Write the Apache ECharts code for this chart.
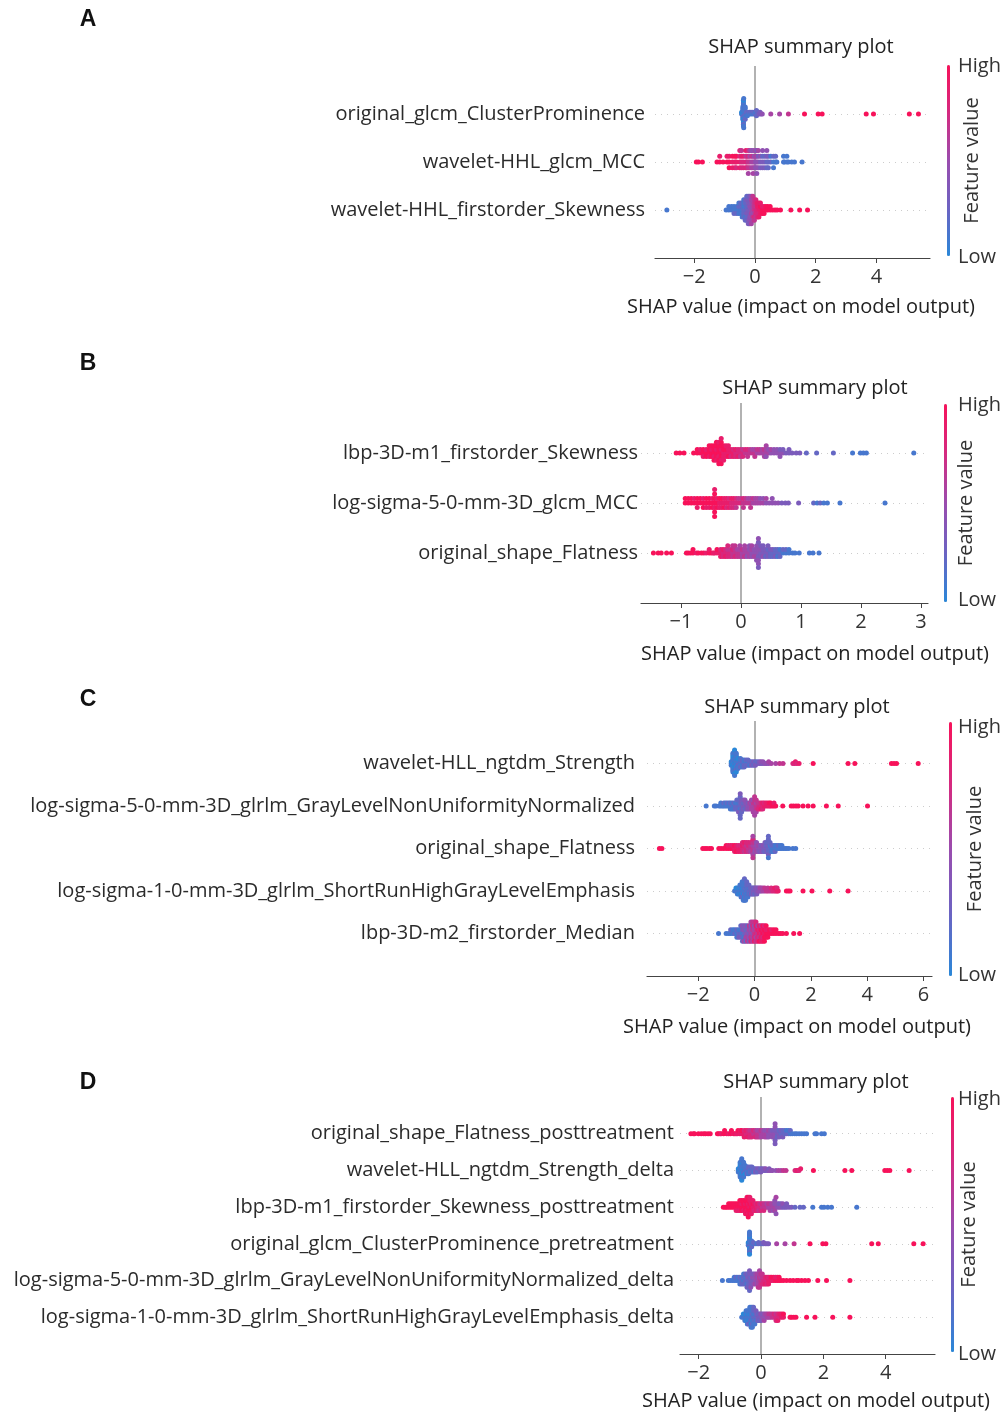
<!DOCTYPE html>
<html><head><meta charset="utf-8">
<script src="https://cdn.jsdelivr.net/npm/echarts@6/dist/echarts.min.js"></script>
<style>html,body{margin:0;padding:0;background:#fff}#c{width:1005px;height:1413px}</style>
</head><body><div id="c"></div><script>
// ---------------- DATA: feature labels, ticks, and per-row points [shap value, feature value 0..9] ----------------
const A_labels = ['original_glcm_ClusterProminence','wavelet-HHL_glcm_MCC','wavelet-HHL_firstorder_Skewness'];
const B_labels = ['lbp-3D-m1_firstorder_Skewness','log-sigma-5-0-mm-3D_glcm_MCC','original_shape_Flatness'];
const C_labels = ['wavelet-HLL_ngtdm_Strength','log-sigma-5-0-mm-3D_glrlm_GrayLevelNonUniformityNormalized','original_shape_Flatness','log-sigma-1-0-mm-3D_glrlm_ShortRunHighGrayLevelEmphasis','lbp-3D-m2_firstorder_Median'];
const D_labels = ['original_shape_Flatness_posttreatment','wavelet-HLL_ngtdm_Strength_delta','lbp-3D-m1_firstorder_Skewness_posttreatment','original_glcm_ClusterProminence_pretreatment','log-sigma-5-0-mm-3D_glrlm_GrayLevelNonUniformityNormalized_delta','log-sigma-1-0-mm-3D_glrlm_ShortRunHighGrayLevelEmphasis_delta'];
const A_ticks = [-2,0,2,4];
const B_ticks = [-1,0,1,2,3];
const C_ticks = [-2,0,2,4,6];
const D_ticks = [-2,0,2,4];

const A1 = [[-.44,1],[-.44,0],
[-.40,1],[-.40,0],[-.40,1],[-.40,1],[-.40,2],[-.40,1],[-.40,0],[-.40,1],
[-.38,1],[-.38,1],[-.38,0],[-.38,1],[-.38,2],[-.38,1],[-.38,1],[-.38,0],[-.37,1],[-.37,1],
[-.34,1],[-.34,1],[-.34,2],[-.34,1],[-.34,1],[-.32,1],[-.32,2],[-.32,1],[-.28,1],[-.28,2],
[-.25,1],[-.22,1],[-.19,2],[-.16,1],[-.13,2],[-.10,1],[-.07,2],[-.04,1],[-.01,2],[.02,2],[.02,1],[.05,2],[.05,2],[.08,2],[.11,2],[.14,3],[.17,3],[.20,3],
[.24,4],[.52,5],[.81,5],[1.10,6],[1.63,9],[2.08,9],[2.21,9],[3.66,9],[3.90,9],[5.08,9],[5.38,9]];
const A2 = [[-1.93,9],[-1.86,9],[-1.73,9],[-1.25,9],[-1.16,9],[-1.16,8],[-1.05,9],[-.92,9],[-.92,8],
[-.85,9],[-.85,8],[-.85,9],[-.74,8],[-.74,9],[-.74,8],[-.66,8],[-.66,9],[-.66,8],[-.61,8],[-.61,9],[-.61,7],
[-.50,8],[-.50,7],[-.50,8],[-.50,7],[-.44,7],[-.44,8],[-.44,7],[-.44,6],[-.38,7],[-.38,8],[-.38,7],
[-.30,7],[-.30,6],[-.30,7],[-.30,8],[-.27,7],[-.27,6],[-.27,7],[-.22,6],[-.22,7],[-.22,6],[-.22,7],[-.22,5],
[-.17,6],[-.17,5],[-.17,6],[-.17,5],[-.11,5],[-.11,6],[-.11,5],[-.11,4],[-.06,5],[-.06,6],[-.06,5],[-.06,4],[-.06,5],
[-.02,5],[-.02,4],[-.02,5],[.02,4],[.02,5],[.02,4],[.02,5],[.06,4],[.06,5],[.06,4],[.06,3],[.06,4],
[.11,4],[.11,3],[.11,4],[.11,5],[.18,3],[.18,4],[.18,3],[.25,3],[.25,2],[.25,3],[.25,4],[.32,3],[.32,2],[.32,3],
[.39,2],[.39,3],[.39,2],[.39,4],[.44,2],[.44,3],[.44,2],[.52,2],[.52,1],[.61,1],[.61,2],[.61,1],[.68,1],[.68,2],[.72,1],
[.94,1],[.94,1],[.97,1],[1.05,1],[1.05,1],[1.10,1],[1.21,1],[1.30,1],[1.55,1]];
const A3 = [[-2.90,1],[-.95,1],[-.86,1],[-.86,1],[-.77,1],[-.77,1],[-.69,1],[-.69,1],[-.69,2],[-.60,1],[-.60,1],[-.60,2],
[-.53,1],[-.53,2],[-.53,1],[-.53,1],[-.47,1],[-.47,2],[-.47,1],[-.47,2],[-.42,1],[-.42,2],[-.42,1],[-.42,2],[-.42,1],
[-.37,2],[-.37,1],[-.37,2],[-.37,1],[-.37,2],[-.37,1],[-.32,2],[-.32,1],[-.32,2],[-.32,2],[-.32,1],[-.32,2],[-.32,2],
[-.27,2],[-.27,2],[-.27,3],[-.27,2],[-.27,2],[-.27,3],[-.27,2],[-.27,2],
[-.22,3],[-.22,2],[-.22,3],[-.22,3],[-.22,2],[-.22,3],[-.22,3],[-.22,2],[-.22,3],
[-.17,3],[-.17,4],[-.17,3],[-.17,3],[-.17,4],[-.17,3],[-.17,4],[-.17,3],[-.17,3],
[-.12,4],[-.12,4],[-.12,5],[-.12,4],[-.12,4],[-.12,5],[-.12,4],[-.12,4],[-.12,5],
[-.07,5],[-.07,5],[-.07,4],[-.07,5],[-.07,6],[-.07,5],[-.07,5],[-.07,6],
[-.02,6],[-.02,6],[-.02,5],[-.02,6],[-.02,7],[-.02,6],[-.02,6],
[.03,7],[.03,6],[.03,7],[.03,7],[.03,6],[.03,7],[.08,7],[.08,8],[.08,7],[.08,8],[.08,7],
[.13,8],[.13,8],[.13,7],[.13,8],[.13,8],[.18,8],[.18,9],[.18,8],[.18,8],[.24,9],[.24,8],[.24,9],
[.30,9],[.30,8],[.30,9],[.36,9],[.36,9],[.42,9],[.42,9],[.50,9],[.50,9],
[.58,9],[.66,9],[.73,9],[.84,9],[1.18,9],[1.47,9],[1.73,9]];

const B1 = [[-1.08,9],[-1.02,9],[-.95,9],[-.79,9],[-.73,9],[-.73,9],[-.68,9],[-.68,8],
[-.63,9],[-.63,9],[-.63,8],[-.58,9],[-.58,8],[-.58,9],[-.53,9],[-.53,9],[-.53,8],[-.53,9],
[-.49,9],[-.49,8],[-.49,9],[-.49,9],[-.45,9],[-.45,9],[-.45,8],[-.45,9],[-.45,9],
[-.41,9],[-.41,8],[-.41,9],[-.41,9],[-.41,8],[-.41,9],[-.37,9],[-.37,9],[-.37,8],[-.37,9],[-.37,9],[-.37,8],[-.37,9],
[-.33,9],[-.33,8],[-.33,9],[-.33,9],[-.33,8],[-.33,9],[-.33,9],[-.33,8],
[-.29,8],[-.29,9],[-.29,8],[-.29,9],[-.29,8],[-.25,8],[-.25,9],[-.25,8],[-.25,8],[-.21,8],[-.21,8],[-.21,9],[-.21,8],
[-.17,8],[-.17,8],[-.17,7],[-.13,8],[-.13,7],[-.13,8],[-.09,7],[-.09,8],[-.09,7],[-.05,7],[-.05,7],[-.05,8],
[-.01,7],[-.01,7],[-.01,6],[.03,7],[.03,6],[.03,7],[.07,6],[.07,7],[.11,6],[.11,7],[.11,6],[.15,6],[.15,6],
[.19,6],[.19,5],[.23,6],[.23,5],[.23,6],[.27,5],[.27,6],[.31,5],[.31,6],[.35,5],[.35,5],[.39,5],[.39,6],[.39,5],
[.42,5],[.42,5],[.42,4],[.42,5],[.46,5],[.46,4],[.50,4],[.50,5],[.55,4],[.55,4],[.60,4],[.60,4],
[.65,4],[.65,3],[.65,4],[.70,4],[.70,3],[.75,3],[.80,3],[.80,3],[.85,3],[.92,3],[.98,3],
[1.09,2],[1.26,2],[1.54,2],[1.86,1],[1.99,1],[2.04,1],[2.09,1],[2.88,1]];
const B2 = [[-.93,9],[-.93,9],[-.88,9],[-.88,9],[-.83,9],[-.83,9],[-.78,9],[-.78,8],[-.73,9],[-.73,9],[-.73,8],[-.68,9],[-.68,9],
[-.63,9],[-.63,8],[-.63,9],[-.58,9],[-.58,9],[-.58,8],[-.53,9],[-.53,9],[-.53,8],[-.48,9],[-.48,8],[-.48,9],
[-.44,9],[-.44,9],[-.44,8],[-.44,9],[-.44,9],[-.44,8],[-.44,9],[-.40,9],[-.40,8],[-.40,9],[-.36,8],[-.36,9],[-.36,8],
[-.32,8],[-.32,9],[-.32,8],[-.28,8],[-.28,8],[-.28,9],[-.24,8],[-.24,8],[-.24,7],[-.20,8],[-.20,7],[-.20,8],
[-.16,7],[-.16,8],[-.16,7],[-.12,7],[-.12,8],[-.12,7],[-.08,7],[-.08,7],[-.08,6],[-.04,7],[-.04,6],[0,7],[0,6],
[.04,6],[.04,7],[.04,6],[.08,6],[.08,6],[.12,6],[.12,5],[.16,6],[.16,5],[.16,6],[.20,5],[.20,6],[.24,5],[.24,5],
[.28,5],[.28,5],[.32,5],[.32,4],[.37,5],[.37,4],[.42,4],[.42,5],[.47,4],[.52,4],[.52,4],[.57,4],[.62,4],
[.68,3],[.74,3],[.79,3],[.96,3],[1.21,2],[1.27,1],[1.32,2],[1.38,1],[1.44,1],[1.65,1],[2.40,1]];
const B3 = [[-1.46,9],[-1.38,9],[-1.33,9],[-1.24,9],[-1.16,9],
[-.91,9],[-.88,9],[-.84,9],[-.80,9],[-.80,9],[-.74,8],[-.71,9],[-.66,9],[-.62,9],[-.58,8],
[-.53,9],[-.53,8],[-.49,9],[-.46,8],[-.44,8],[-.40,8],[-.40,9],
[-.34,8],[-.34,7],[-.34,8],[-.30,7],[-.30,8],[-.30,7],[-.26,7],[-.26,7],[-.26,8],[-.22,7],[-.22,6],[-.22,7],[-.22,7],
[-.18,7],[-.18,6],[-.18,7],[-.14,6],[-.14,7],[-.14,6],[-.14,6],[-.10,6],[-.10,6],[-.10,7],[-.10,6],
[-.06,6],[-.06,5],[-.06,6],[-.02,6],[-.02,5],[-.02,6],[-.02,5],[.02,5],[.02,6],[.02,5],
[.06,5],[.06,5],[.06,6],[.06,5],[.10,5],[.10,5],[.10,4],[.14,5],[.14,4],[.14,5],[.14,4],
[.18,4],[.18,5],[.18,4],[.18,5],[.22,4],[.22,4],[.22,5],[.26,4],[.26,4],[.26,5],[.26,4],[.26,4],
[.29,4],[.29,4],[.29,3],[.29,4],[.29,4],[.29,3],[.29,4],[.29,4],[.29,3],
[.33,3],[.33,4],[.33,3],[.33,3],[.37,3],[.37,3],[.37,4],[.37,3],[.41,3],[.41,3],[.41,2],
[.45,3],[.45,2],[.45,3],[.45,3],[.49,2],[.49,3],[.49,2],[.53,2],[.53,3],[.53,2],[.57,2],[.57,2],[.57,3],
[.61,2],[.61,2],[.61,1],[.65,2],[.65,1],[.65,2],[.70,1],[.70,2],[.75,1],[.75,2],[.80,1],[.80,1],
[.86,1],[.90,1],[.97,1],[1.14,1],[1.20,1],[1.30,1]];

const C1 = [[-.83,1],[-.83,0],[-.83,1],
[-.77,0],[-.77,1],[-.77,0],[-.77,1],[-.77,0],[-.77,1],[-.77,1],[-.77,0],[-.77,1],[-.77,0],[-.77,1],[-.77,1],
[-.71,1],[-.71,0],[-.71,1],[-.71,1],[-.71,0],[-.71,1],[-.71,0],[-.71,1],[-.71,1],[-.71,0],[-.71,1],[-.71,1],[-.71,0],[-.71,1],[-.71,1],[-.71,0],
[-.65,1],[-.65,1],[-.65,0],[-.65,1],[-.65,1],[-.65,0],[-.65,1],[-.65,1],[-.65,2],[-.65,1],[-.65,0],[-.65,1],
[-.59,1],[-.59,1],[-.59,2],[-.59,1],[-.59,1],[-.59,0],[-.59,1],
[-.50,1],[-.50,2],[-.50,1],[-.50,1],[-.50,2],[-.50,1],[-.43,1],[-.43,2],[-.43,1],[-.43,2],[-.43,1],
[-.37,2],[-.37,1],[-.37,2],[-.37,1],[-.37,2],[-.30,2],[-.30,1],[-.30,2],[-.30,2],[-.23,2],[-.23,1],[-.23,2],[-.23,2],
[-.17,2],[-.17,2],[-.17,1],[-.10,2],[-.10,2],[-.10,3],[-.03,2],[-.03,3],[-.03,2],[.03,3],[.03,2],[.03,3],
[.10,3],[.10,2],[.17,3],[.17,3],[.23,3],[.23,4],[.30,3],[.30,4],[.37,4],[.43,4],[.50,4],[.50,5],
[.59,5],[.75,5],[.89,6],[1.01,6],[1.36,7],[1.42,7],[1.45,8],[1.50,7],[1.58,8],[2.08,9],[3.32,9],[3.56,9],[4.86,9],[4.95,9],[5.04,9],[5.81,9]];
const C2 = [[-1.72,1],[-1.43,1],[-1.37,1],[-1.26,1],[-1.20,1],[-1.20,1],[-1.14,1],[-1.09,1],[-1.09,2],[-1.03,1],[-1.03,1],[-.97,1],[-.97,2],[-.91,1],[-.91,1],
[-.86,1],[-.86,2],[-.86,1],[-.80,2],[-.80,1],[-.80,1],[-.74,1],[-.74,2],[-.74,1],[-.68,2],[-.68,1],[-.68,2],
[-.63,2],[-.63,1],[-.63,2],[-.63,2],[-.57,2],[-.57,1],[-.57,2],[-.57,2],[-.57,3],
[-.51,2],[-.51,2],[-.51,1],[-.51,2],[-.51,3],[-.51,2],[-.51,2],[-.51,3],[-.51,2],
[-.46,2],[-.46,3],[-.46,2],[-.46,3],[-.46,2],[-.40,3],[-.40,2],[-.40,3],[-.40,3],[-.34,3],[-.34,3],[-.34,2],[-.34,4],
[-.28,3],[-.28,4],[-.28,3],[-.23,4],[-.23,3],[-.23,4],[-.17,4],[-.17,5],[-.17,4],[-.11,5],[-.11,4],[-.11,5],[-.11,5],
[-.05,5],[-.05,6],[-.05,5],[-.05,4],[-.05,5],[0,5],[0,6],[0,5],[0,6],[0,5],[0,6],[0,5],
[.06,6],[.06,5],[.06,6],[.06,6],[.06,5],[.12,6],[.12,6],[.12,7],[.17,7],[.17,6],[.17,7],[.23,7],[.23,7],[.23,8],
[.29,7],[.29,8],[.29,7],[.34,8],[.34,7],[.40,8],[.40,8],[.46,8],[.46,8],[.52,8],[.52,9],[.57,8],[.57,9],[.63,9],[.69,9],[.69,8],[.75,9],[1.00,9],
[1.30,9],[1.38,9],[1.47,9],[1.55,9],[1.72,9],[1.90,9],[2.08,9],[2.55,9],[2.97,9],[4.01,9]];
const C3 = [[-3.38,9],[-3.29,9],[-1.84,9],[-1.76,9],[-1.69,9],[-1.60,9],[-1.53,9],[-1.27,9],[-1.19,9],[-1.10,9],[-1.01,9],[-1.01,9],[-.93,9],[-.93,8],
[-.85,9],[-.85,8],[-.78,9],[-.78,8],[-.71,8],[-.71,9],[-.71,8],[-.64,8],[-.64,8],[-.64,9],[-.57,8],[-.57,7],[-.57,8],[-.50,8],[-.50,7],[-.50,8],
[-.43,7],[-.43,8],[-.43,7],[-.43,7],[-.36,7],[-.36,7],[-.36,6],[-.36,8],[-.29,7],[-.29,6],[-.29,7],[-.29,7],
[-.22,6],[-.22,7],[-.22,6],[-.22,7],[-.14,6],[-.14,6],[-.14,5],[-.14,7],
[-.06,6],[-.06,5],[-.06,6],[-.06,6],[-.06,5],[-.06,7],[-.06,6],[-.06,5],
[.01,5],[.01,5],[.01,4],[.01,6],[.07,5],[.07,4],[.07,5],[.07,4],[.13,4],[.13,5],[.13,4],[.19,4],[.19,4],[.19,3],
[.25,4],[.25,3],[.25,4],[.31,3],[.31,4],[.31,3],[.37,3],[.37,3],[.37,2],[.37,3],[.43,3],[.43,2],[.43,3],[.43,2],
[.49,2],[.49,3],[.49,2],[.49,2],[.49,3],[.49,2],[.49,1],[.49,2],[.55,2],[.55,1],[.55,2],[.55,2],
[.61,1],[.61,2],[.61,1],[.67,1],[.67,2],[.67,1],[.73,1],[.73,1],[.73,2],[.79,1],[.79,1],[.85,1],[.85,2],[.91,1],[.91,1],[.97,1],[.97,1],
[1.03,1],[1.09,1],[1.15,1],[1.22,1],[1.36,1],[1.46,1]];
const C4 = [[-.71,1],[-.66,1],[-.66,0],[-.61,1],[-.61,0],[-.61,1],[-.56,1],[-.56,1],[-.56,0],
[-.52,1],[-.52,0],[-.52,1],[-.52,1],[-.48,1],[-.48,1],[-.48,0],[-.48,1],[-.48,1],
[-.44,1],[-.44,0],[-.44,1],[-.44,1],[-.44,2],[-.44,1],[-.40,1],[-.40,1],[-.40,0],[-.40,1],[-.40,2],[-.40,1],[-.40,1],
[-.36,1],[-.36,1],[-.36,2],[-.36,1],[-.36,0],[-.36,1],[-.36,1],[-.36,2],[-.32,1],[-.32,2],[-.32,1],[-.32,1],[-.32,2],[-.32,1],[-.32,1],
[-.28,2],[-.28,1],[-.28,1],[-.28,2],[-.28,1],[-.28,2],[-.24,1],[-.24,2],[-.24,1],[-.24,2],[-.24,1],
[-.20,2],[-.20,1],[-.20,2],[-.20,2],[-.16,2],[-.16,2],[-.16,1],[-.12,2],[-.12,2],[-.12,3],[-.08,2],[-.08,3],[-.08,2],
[-.04,3],[-.04,2],[-.04,3],[0,3],[0,3],[0,2],[.04,3],[.04,3],[.08,3],[.08,4],[.08,3],[.12,4],[.12,3],[.16,4],[.16,4],
[.20,4],[.20,5],[.24,4],[.24,5],[.30,5],[.30,5],[.36,5],[.36,6],[.42,6],[.47,6],[.47,6],[.53,6],[.59,6],[.59,7],
[.65,7],[.71,7],[.71,8],[.76,7],[.76,8],[.80,8],[.80,7],[.84,8],
[1.13,9],[1.20,9],[1.26,9],[1.72,9],[2.04,9],[2.67,9],[3.32,9]];
const C5 = [[-1.28,1],[-1.01,1],[-.92,1],[-.85,1],[-.85,2],[-.77,1],[-.77,1],[-.70,2],[-.70,1],[-.63,1],[-.63,2],[-.63,1],[-.56,2],[-.56,1],[-.56,3],
[-.49,2],[-.49,1],[-.49,3],[-.49,2],[-.43,1],[-.43,3],[-.43,2],[-.43,4],[-.43,2],[-.37,2],[-.37,4],[-.37,1],[-.37,3],[-.37,5],
[-.31,3],[-.31,2],[-.31,5],[-.31,4],[-.31,2],[-.25,4],[-.25,3],[-.25,5],[-.25,2],[-.25,6],[-.19,3],[-.19,5],[-.19,4],[-.19,6],[-.19,3],
[-.13,5],[-.13,4],[-.13,6],[-.13,3],[-.13,7],[-.13,5],[-.07,4],[-.07,6],[-.07,5],[-.07,7],[-.07,5],[-.07,6],
[-.01,6],[-.01,5],[-.01,7],[-.01,4],[-.01,8],[-.01,6],[.05,7],[.05,6],[.05,5],[.05,8],[.05,6],[.05,7],
[.11,6],[.11,8],[.11,7],[.11,5],[.11,7],[.17,8],[.17,7],[.17,6],[.17,8],[.17,9],[.23,7],[.23,9],[.23,8],[.23,6],[.23,8],
[.29,9],[.29,8],[.29,7],[.29,9],[.29,8],[.35,8],[.35,9],[.35,9],[.35,7],[.35,9],[.41,9],[.41,8],[.41,9],[.41,9],
[.47,9],[.47,8],[.47,9],[.53,9],[.53,9],[.60,9],[.60,8],[.68,9],[.68,9],[.76,9],[.76,9],
[.85,9],[.92,9],[1.00,9],[1.13,9],[1.39,9],[1.60,9]];

const D1 = [[-2.25,9],[-2.17,9],[-2.13,9],[-2.01,9],[-1.92,9],[-1.84,9],[-1.78,9],[-1.70,9],[-1.63,9],
[-1.40,9],[-1.36,9],[-1.31,9],[-1.28,8],[-1.20,9],[-1.17,9],[-1.10,9],[-1.04,8],[-.98,9],[-.95,9],[-.88,8],[-.84,9],
[-.80,8],[-.76,8],[-.74,9],[-.68,8],[-.66,8],[-.62,8],[-.62,9],
[-.54,8],[-.54,7],[-.54,8],[-.48,7],[-.48,8],[-.42,7],[-.42,7],[-.42,8],[-.36,7],[-.36,6],[-.36,7],[-.30,7],[-.30,6],[-.30,7],
[-.24,6],[-.24,7],[-.18,6],[-.18,6],[-.18,7],[-.12,6],[-.12,5],[-.12,6],[-.06,6],[-.06,5],[-.06,6],[0,5],[0,6],[0,5],
[.06,5],[.06,5],[.12,5],[.12,4],[.12,5],[.18,5],[.18,4],[.18,5],[.24,4],[.24,5],[.24,4],[.30,4],[.30,4],
[.36,4],[.36,3],[.36,4],[.42,4],[.42,3],[.42,4],[.45,4],[.45,3],[.45,4],[.45,4],[.45,3],[.45,4],[.45,3],
[.52,3],[.52,3],[.52,2],[.58,3],[.58,2],[.58,3],[.64,2],[.64,3],[.70,2],[.70,2],[.70,3],[.76,2],[.76,2],[.82,2],[.82,1],[.88,2],[.88,1],[.94,1],[.94,2],
[1.00,1],[1.08,1],[1.14,1],[1.22,1],[1.30,1],[1.38,1],[1.46,1],[1.73,1],[1.78,1],[1.94,1],[2.03,1]];
const D2 = [[-.73,1],[-.73,0],[-.73,1],
[-.67,0],[-.67,1],[-.67,0],[-.67,1],[-.67,1],[-.67,0],[-.67,1],[-.67,0],[-.67,1],[-.67,1],
[-.62,1],[-.62,0],[-.62,1],[-.62,1],[-.62,0],[-.62,1],[-.62,0],[-.62,1],[-.62,1],[-.62,0],[-.62,1],[-.62,1],[-.62,0],[-.62,1],
[-.56,1],[-.56,0],[-.56,1],[-.56,1],[-.56,2],[-.56,1],[-.56,0],[-.56,1],[-.56,1],[-.56,1],
[-.51,1],[-.51,1],[-.51,2],[-.51,1],[-.51,0],[-.51,1],[-.45,1],[-.45,2],[-.45,1],[-.45,1],[-.45,2],
[-.40,1],[-.40,2],[-.40,1],[-.40,2],[-.40,1],[-.34,2],[-.34,1],[-.34,2],[-.34,2],[-.29,2],[-.29,1],[-.29,2],[-.29,2],
[-.23,2],[-.23,2],[-.23,1],[-.18,2],[-.18,2],[-.18,3],[-.12,2],[-.12,3],[-.12,2],[-.07,2],[-.07,3],
[-.01,3],[-.01,2],[-.01,3],[.04,3],[.04,3],[.10,3],[.10,3],[.15,3],[.15,4],[.21,3],[.26,4],[.26,3],[.32,4],[.37,4],
[.48,4],[.56,5],[.64,5],[.72,6],[.80,6],[1.09,7],[1.14,7],[1.17,8],[1.22,7],[1.27,8],[1.68,9],[2.69,9],[2.91,9],[3.97,9],[4.05,9],[4.13,9],[4.75,9]];
const D3 = [[-1.21,9],[-1.15,9],[-1.10,9],[-1.04,9],[-1.04,9],[-.98,9],[-.98,9],[-.92,9],[-.92,9],
[-.86,9],[-.86,9],[-.80,9],[-.80,9],[-.80,8],[-.74,9],[-.74,9],[-.74,8],[-.68,9],[-.68,9],[-.68,8],[-.68,9],
[-.62,9],[-.62,8],[-.62,9],[-.62,9],[-.56,9],[-.56,9],[-.56,8],[-.56,9],[-.50,9],[-.50,8],[-.50,9],[-.50,9],[-.50,8],
[-.45,9],[-.45,9],[-.45,8],[-.45,9],[-.45,9],[-.45,8],[-.41,9],[-.41,8],[-.41,9],[-.41,9],[-.41,8],[-.41,9],[-.41,9],
[-.36,8],[-.36,9],[-.36,9],[-.36,8],[-.36,9],[-.36,8],[-.31,9],[-.31,8],[-.31,9],[-.31,8],[-.31,8],
[-.26,8],[-.26,9],[-.26,8],[-.26,8],[-.21,8],[-.21,8],[-.21,7],[-.16,8],[-.16,7],[-.16,8],[-.11,7],[-.11,8],[-.11,7],
[-.06,7],[-.06,7],[-.06,6],[-.01,7],[-.01,6],[-.01,7],[.04,6],[.04,7],[.09,6],[.09,6],[.09,7],[.14,6],[.14,6],
[.19,6],[.19,5],[.24,5],[.24,6],[.29,5],[.29,6],[.29,5],[.34,5],[.34,5],[.39,5],[.39,5],[.39,4],
[.44,5],[.44,4],[.44,5],[.44,4],[.48,4],[.48,5],[.53,4],[.53,4],[.58,4],[.58,3],[.64,4],[.64,3],[.70,3],[.70,4],
[.76,3],[.82,3],[.82,3],[.90,3],[.98,3],[1.09,2],[1.25,2],[1.36,2],[1.66,1],[1.94,1],[2.02,1],[2.14,1],[2.26,1],[3.07,1]];
const D4 = [[-.41,1],[-.41,0],[-.41,1],
[-.37,1],[-.37,0],[-.37,1],[-.37,1],[-.37,2],[-.37,1],[-.37,0],[-.37,1],[-.37,1],[-.37,0],[-.37,1],[-.37,1],[-.37,2],[-.37,1],[-.37,0],[-.37,1],
[-.30,1],[-.30,2],[-.30,1],[-.30,1],[-.30,2],[-.25,1],[-.25,2],
[-.19,2],[-.13,1],[-.08,2],[-.08,2],[-.02,2],[.03,2],[.08,2],[.08,3],[.14,3],[.19,3],[.24,3],
[.50,5],[.77,5],[1.06,6],[1.57,9],[1.98,9],[2.08,9],[3.55,9],[3.76,9],[4.90,9],[5.20,9]];
const D5 = [[-1.24,1],[-1.05,1],[-.99,1],[-.92,1],[-.86,1],[-.86,1],[-.80,1],[-.80,2],[-.74,1],[-.74,1],[-.68,1],[-.68,2],[-.68,1],[-.62,2],[-.62,1],[-.62,2],
[-.56,1],[-.56,2],[-.56,2],[-.56,1],[-.50,2],[-.50,1],[-.50,2],[-.50,2],[-.45,2],[-.45,2],[-.45,1],[-.45,3],[-.45,2],
[-.41,2],[-.41,3],[-.41,2],[-.41,2],[-.41,3],[-.37,2],[-.37,3],[-.37,2],[-.37,3],[-.37,2],[-.37,3],[-.37,2],
[-.33,3],[-.33,2],[-.33,3],[-.33,3],[-.33,4],[-.28,3],[-.28,4],[-.28,3],[-.28,3],[-.23,3],[-.23,4],[-.23,4],[-.23,3],
[-.18,4],[-.18,4],[-.18,5],[-.18,4],[-.13,4],[-.13,5],[-.13,4],[-.13,5],[-.09,5],[-.09,4],[-.09,5],[-.09,5],[-.09,6],
[-.05,5],[-.05,6],[-.05,5],[-.05,5],[-.05,6],[-.05,5],[-.01,6],[-.01,5],[-.01,6],[-.01,6],[.04,6],[.04,6],[.04,7],[.04,6],
[.09,7],[.09,6],[.09,7],[.14,7],[.14,7],[.14,8],[.19,7],[.19,8],[.19,7],[.24,8],[.24,7],[.24,8],
[.29,8],[.29,8],[.34,8],[.34,9],[.40,8],[.40,9],[.46,9],[.46,8],[.52,9],[.52,8],[.58,9],[.58,9],[.64,9],
[.72,9],[.82,9],[.93,9],[1.03,9],[1.14,9],[1.20,9],[1.30,9],[1.41,9],[1.52,9],[1.82,9],[2.10,9],[2.85,9]];
const D6 = [[-.62,1],[-.57,1],[-.57,0],[-.52,1],[-.52,0],[-.52,1],[-.48,1],[-.48,1],[-.48,0],[-.48,1],
[-.44,1],[-.44,0],[-.44,1],[-.44,1],[-.44,1],[-.40,1],[-.40,1],[-.40,0],[-.40,1],[-.40,2],
[-.36,1],[-.36,0],[-.36,1],[-.36,1],[-.36,2],[-.36,1],[-.32,1],[-.32,1],[-.32,2],[-.32,1],[-.32,0],[-.32,1],[-.32,1],
[-.28,1],[-.28,2],[-.28,1],[-.28,1],[-.28,2],[-.28,1],[-.28,1],[-.24,2],[-.24,1],[-.24,1],[-.24,2],[-.24,1],[-.24,2],
[-.20,2],[-.20,1],[-.20,2],[-.20,2],[-.20,1],[-.16,2],[-.16,2],[-.16,1],[-.16,3],[-.12,2],[-.12,3],[-.12,2],
[-.08,3],[-.08,2],[-.08,3],[-.04,3],[-.04,3],[-.04,2],[0,3],[0,4],[0,3],[.05,4],[.05,3],[.10,4],[.10,4],[.10,5],
[.15,4],[.15,5],[.20,5],[.20,5],[.25,5],[.25,6],[.30,5],[.30,6],[.36,6],[.36,6],[.42,6],[.42,7],
[.48,7],[.48,6],[.48,7],[.54,7],[.54,7],[.54,8],[.60,7],[.60,8],[.66,8],[.66,8],[.72,8],[.72,9],
[.93,9],[.98,9],[1.05,9],[1.12,9],[1.46,9],[1.73,9],[2.30,9],[2.85,9]];

// ---------------- LAYOUT (positions/styles, separate from data) ----------------
const FONT = '"Open Sans", "Noto Sans", sans-serif';
const PANELS = [
 {letter:'A', labels:A_labels, rows:[A1,A2,A3], ticks:A_ticks, xMin:-3.29, xMax:5.76,
  left:655, right:75, top:66, height:192, labelMargin:10, letterY:20, titleX:801, titleY:47, nameY:307,
  barX:947, barTop:65, barH:191, highY:66, lowY:257, fvX:972},
 {letter:'B', labels:B_labels, rows:[B1,B2,B3], ticks:B_ticks, xMin:-1.667, xMax:3.117,
  left:641, right:77, top:403, height:200, labelMargin:3, letterY:364, titleX:815, titleY:388, nameY:654,
  barX:944, barTop:404, barH:198, highY:405, lowY:600, fvX:966},
 {letter:'C', labels:C_labels, rows:[C1,C2,C3,C4,C5], ticks:C_ticks, xMin:-3.82, xMax:6.30,
  left:647, right:73, top:721, height:255, labelMargin:12, letterY:700, titleX:797, titleY:707, nameY:1027,
  barX:949, barTop:722, barH:254, highY:727, lowY:975, fvX:975},
 {letter:'D', labels:D_labels, rows:[D1,D2,D3,D4,D5,D6], ticks:D_ticks, xMin:-2.60, xMax:5.58,
  left:680, right:70, top:1097, height:257, labelMargin:6, letterY:1083, titleX:816, titleY:1082, nameY:1401,
  barX:951, barTop:1097, barH:255, highY:1099, lowY:1354, fvX:969}
];

// SHAP-style beeswarm layout: bin by value, stack alternately within each bin
function swarm(points, row) {
  const xs = points.map(p => p[0]);
  const mn = Math.min(...xs), mx = Math.max(...xs);
  const nbins = 100;
  const quant = xs.map(x => Math.round(nbins * (x - mn) / (mx - mn + 1e-8)));
  const inds = xs.map((_, i) => i).sort((a, b) => (quant[a] - quant[b]) || (a - b));
  const ys = new Array(xs.length).fill(0);
  let layer = 0, last = -1;
  for (const i of inds) {
    if (quant[i] !== last) layer = 0;
    ys[i] = Math.ceil(layer / 2) * ((layer % 2) * 2 - 1);
    layer++; last = quant[i];
  }
  const s = 0.9 * 0.4 / Math.max(...ys.map(y => y + 1));
  return points.map((p, i) => [p[0], row - ys[i] * s, p[1]]);
}

const fmt = v => (v < 0 ? '\u2212' + Math.abs(v) : String(v));
const grids = [], xAxes = [], yAxes = [], series = [], visualMaps = [], graphics = [];
PANELS.forEach((P, pi) => {
  const n = P.rows.length;
  grids.push({left:P.left, right:P.right, top:P.top, height:P.height, containLabel:false, outerBoundsMode:'none'});
  xAxes.push({gridIndex:pi, type:'value', min:P.xMin, max:P.xMax,
    axisLine:{show:true, onZero:false, lineStyle:{color:'#444', width:1.2}},
    axisTick:{show:true, customValues:P.ticks, length:5, lineStyle:{color:'#444', width:1}},
    axisLabel:{customValues:P.ticks, formatter:fmt, fontSize:20, color:'#333', fontFamily:FONT, margin:9},
    splitLine:{show:false}});
  yAxes.push({gridIndex:pi, type:'value', inverse:true, min:-1, max:n, interval:1,
    axisLine:{show:false, onZero:false}, axisTick:{show:false}, splitLine:{show:false},
    axisLabel:{customValues:P.labels.map((_, i) => i), formatter:v => P.labels[Math.round(v)] || '',
      fontSize:20, color:'#2b2b2b', fontFamily:FONT, margin:P.labelMargin}});
  const sIdx = [];
  P.rows.forEach((pts, r) => {
    const s = {type:'scatter', xAxisIndex:pi, yAxisIndex:pi, data:swarm(pts, r), symbolSize:5,
      itemStyle:{opacity:1}, silent:true, z:3, animation:false};
    if (r === 0) {
      s.markLine = {silent:true, symbol:['none','none'], z:1, animation:false, label:{show:false},
        data:[...P.labels.map((_, i) => ({yAxis:i, lineStyle:{color:'#cccccc', width:1, type:[1,5]}})),
              {xAxis:0, lineStyle:{color:'#999999', width:1.5, type:'solid'}}]};
    }
    sIdx.push(series.length);
    series.push(s);
  });
  visualMaps.push({type:'continuous', min:0, max:9, dimension:2, seriesIndex:sIdx, calculable:false,
    orient:'vertical', left:P.barX, top:P.barTop, itemWidth:3, itemHeight:P.barH, padding:0, text:null,
    inRange:{color:['#2a87d8', '#6c63c2', '#9a4cae', '#d52a80', '#f7125a']}, hoverLink:false});
  const txt = (t, x, y, extra) => graphics.push(Object.assign({type:'text', x, y, silent:true,
    style:Object.assign({text:t, fontSize:20, fontFamily:FONT, fill:'#222', align:'center', verticalAlign:'middle'}, extra || {})}));
  txt(P.letter, 88, P.letterY, {fontSize:23, fontWeight:'bold', fontFamily:'"Liberation Sans", Arial, sans-serif', fill:'#111'});
  txt('SHAP summary plot', P.titleX, P.titleY);
  txt('SHAP value (impact on model output)', P.titleX, P.nameY);
  txt('High', 958, P.highY, {align:'left', fill:'#333'});
  txt('Low', 958, P.lowY, {align:'left', fill:'#333'});
  graphics.push({type:'text', x:P.fvX, y:(P.barTop + P.barTop + P.barH) / 2, rotation:Math.PI / 2, silent:true,
    style:{text:'Feature value', fontSize:20, fontFamily:FONT, fill:'#333', align:'center', verticalAlign:'middle'}});
});

const chart = echarts.init(document.getElementById('c'), null, {renderer:'canvas'});
chart.setOption({animation:false, backgroundColor:'#fff', grid:grids, xAxis:xAxes, yAxis:yAxes,
  series, visualMap:visualMaps, graphic:graphics});
</script></body></html>
